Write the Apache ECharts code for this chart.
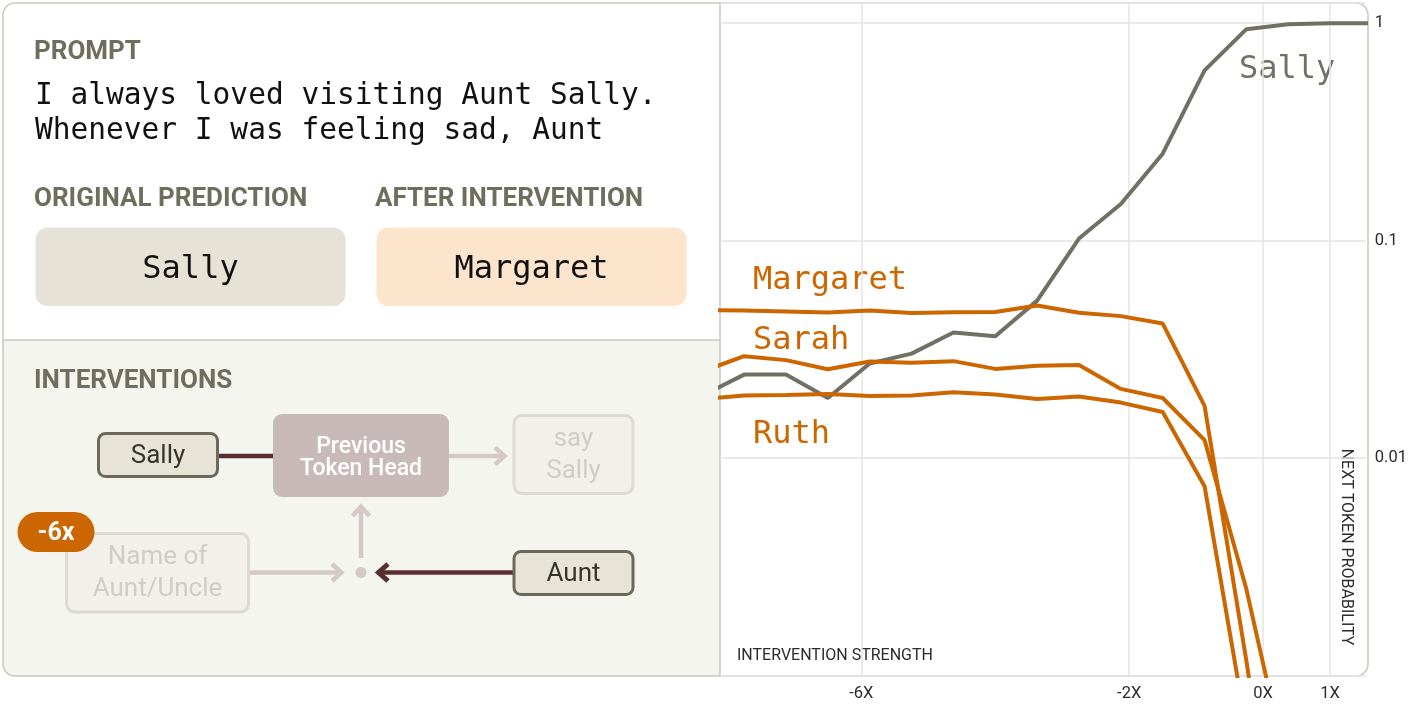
<!DOCTYPE html>
<html><head><meta charset="utf-8">
<script src="https://cdn.jsdelivr.net/npm/echarts@6/dist/echarts.min.js"></script>
<style>html,body{margin:0;padding:0;background:#fff}#c{width:1410px;height:704px}</style>
</head><body><div id="c"></div>
<script>
// ---- data ----
const xValues = [-8.375, -7.75, -7.125, -6.5, -5.875, -5.25, -4.625, -4.0, -3.375, -2.75, -2.125, -1.5, -0.875, -0.25, 0.375, 1.0, 1.625];
const sally    = [0.0194, 0.0242, 0.0242, 0.0189, 0.0272, 0.0302, 0.0378, 0.0363, 0.0529, 0.102, 0.147, 0.250, 0.603, 0.933, 0.983, 0.994, 0.994];
const margaret = [0.0478, 0.0476, 0.0471, 0.0466, 0.0476, 0.0464, 0.0468, 0.0469, 0.0502, 0.0465, 0.0449, 0.0415, 0.0174, 0.00117, 0.00006, 0.000001, 0.000001];
const sarah    = [0.0250, 0.0294, 0.0282, 0.0256, 0.0278, 0.0274, 0.0279, 0.0257, 0.0266, 0.0268, 0.0208, 0.0189, 0.0121, 0.0025, 0.00035, 0.00001, 0.000001];
const ruth     = [0.0187, 0.0194, 0.0195, 0.0197, 0.0193, 0.0194, 0.0201, 0.0196, 0.0187, 0.0192, 0.0180, 0.0163, 0.00744, 0.00057, 0.00001, 0.000001, 0.000001];
const xTickValues = [-6, -2, 0, 1];
const seriesNames = ['Sally', 'Margaret', 'Sarah', 'Ruth'];
const promptLines = ['I always loved visiting Aunt Sally.', 'Whenever I was feeling sad, Aunt'];
const originalPrediction = 'Sally';
const afterPrediction = 'Margaret';
const interventionFactor = '-6x';

// ---- styles ----
const GRAY = '#727064', ORANGE = '#cc6600', HEAD = '#6f6e5e';
const SANS = 'Roboto, "Noto Sans", sans-serif';
const MONO = '"DejaVu Sans Mono", "Liberation Mono", monospace';
const MAROON = '#5a2e2e', LIGHTARROW = '#d5c8c8', LIGHTBORDER = '#dcdad3', LIGHTTEXT = '#cfcdc7';
const DARKBORDER = '#6b6a5a', DARKFILL = '#e7e3d7', DARKTEXT = '#35352c';

const pairs = arr => xValues.map((x, i) => [x, arr[i]]);
const seriesData = [sally, margaret, sarah, ruth];
const seriesColors = [GRAY, ORANGE, ORANGE, ORANGE];

function txt(x, y, text, font, color, opts) {
  return Object.assign({
    type: 'text', x: x, y: y,
    style: Object.assign({ text: text, font: font, fill: color, align: 'left', verticalAlign: 'middle' }, (opts && opts.style) || {})
  }, (opts && opts.el) || {});
}
function rect(x, y, w, h, r, fill, stroke, lw) {
  return { type: 'rect', shape: { x: x, y: y, width: w, height: h, r: r },
    style: { fill: fill || null, stroke: stroke || null, lineWidth: lw || 0 } };
}
function line(x1, y1, x2, y2, color, lw) {
  return { type: 'line', shape: { x1: x1, y1: y1, x2: x2, y2: y2 }, style: { stroke: color, lineWidth: lw } };
}
function head(points, color, lw) {
  return { type: 'polyline', shape: { points: points }, style: { stroke: color, lineWidth: lw, fill: null, lineJoin: 'miter' } };
}
const C = { style: { align: 'center' } };

const elements = [
  // panels
  rect(3, 340, 717, 336, [0, 0, 0, 12], '#f5f5f0'),
  // headers
  txt(34, 52, 'PROMPT', 'bold 26px ' + SANS, HEAD),
  txt(35, 96, promptLines[0], '29.5px ' + MONO, '#111'),
  txt(35, 131, promptLines[1], '29.5px ' + MONO, '#111'),
  txt(34, 199.2, 'ORIGINAL PREDICTION', 'bold 26px ' + SANS, HEAD),
  txt(375, 199.2, 'AFTER INTERVENTION', 'bold 26px ' + SANS, HEAD),
  rect(35.5, 227.5, 310, 78.5, 12, '#e6e2d6'),
  rect(376.5, 227.5, 310, 78.5, 12, '#fde4cc'),
  txt(190.5, 269.7, originalPrediction, '32px ' + MONO, '#111', C),
  txt(531.5, 269.7, afterPrediction, '32px ' + MONO, '#111', C),
  txt(34, 381.2, 'INTERVENTIONS', 'bold 26px ' + SANS, HEAD),
  // diagram connectors
  line(218, 456, 274, 456, MAROON, 4.5),
  line(449, 456, 503, 456, LIGHTARROW, 4.5),
  head([[495, 447.5], [504.5, 456], [495, 464.5]], LIGHTARROW, 4.5),
  line(361, 558, 361, 509, LIGHTARROW, 4.5),
  head([[352.5, 516], [361, 506.5], [369.5, 516]], LIGHTARROW, 4.5),
  line(249, 572.5, 340, 572.5, LIGHTARROW, 4.5),
  head([[332, 564], [341.5, 572.5], [332, 581]], LIGHTARROW, 4.5),
  line(513, 572.5, 382, 572.5, MAROON, 4.5),
  head([[388, 564], [378.5, 572.5], [388, 581]], MAROON, 5),
  { type: 'circle', shape: { cx: 361, cy: 572.5, r: 5.5 }, style: { fill: LIGHTARROW } },
  // diagram boxes
  rect(98.5, 433.5, 119, 43, 7, DARKFILL, DARKBORDER, 3),
  txt(158, 456.5, 'Sally', '26px ' + SANS, DARKTEXT, C),
  rect(273, 414, 176, 83, 9, '#c9baba'),
  txt(361, 447, 'Previous', '500 23px ' + SANS, '#ffffff', C),
  txt(361, 469.5, 'Token Head', '500 23px ' + SANS, '#ffffff', C),
  rect(514, 415.5, 119, 78, 8, '#f1f0eb', LIGHTBORDER, 3),
  txt(573.5, 439.5, 'say', '26px ' + SANS, LIGHTTEXT, C),
  txt(573.5, 471, 'Sally', '26px ' + SANS, LIGHTTEXT, C),
  rect(66.5, 533.5, 182, 78.5, 8, '#f1f0eb', LIGHTBORDER, 3),
  txt(157.5, 557.8, 'Name of', '26px ' + SANS, LIGHTTEXT, C),
  txt(157.5, 589, 'Aunt/Uncle', '26px ' + SANS, LIGHTTEXT, C),
  rect(17.5, 512, 77, 40, 20, ORANGE),
  txt(56, 534, interventionFactor, 'bold 25px ' + SANS, '#ffffff', C),
  rect(514, 551.5, 119, 43, 7, DARKFILL, DARKBORDER, 3),
  txt(573.5, 574.5, 'Aunt', '26px ' + SANS, DARKTEXT, C),
  // chart texts
  txt(753, 281, seriesNames[1], '32px ' + MONO, ORANGE),
  txt(753, 340.2, seriesNames[2], '32px ' + MONO, ORANGE),
  txt(753, 434.4, seriesNames[3], '32px ' + MONO, ORANGE),
  txt(1239, 69.7, seriesNames[0], '32px ' + MONO, GRAY),
  txt(737, 655.5, 'INTERVENTION STRENGTH', '16px ' + SANS, '#2b2b2b'),
  { type: 'text', x: 1346, y: 547, rotation: -Math.PI / 2,
    style: { text: 'NEXT TOKEN PROBABILITY', font: '16px ' + SANS, fill: '#2b2b2b', align: 'center', verticalAlign: 'middle' } },
  // frame
  rect(3, 3, 1365, 673, 12, null, '#c9c8be', 1.5),
  line(720, 3, 720, 676, '#c9c8be', 1.5),
  line(3, 340, 720, 340, '#c9c8be', 1.5)
];

const chart = echarts.init(document.getElementById('c'), null, { renderer: 'canvas' });
chart.setOption({
  animation: false,
  backgroundColor: '#ffffff',
  grid: { left: 720, right: 42, top: 3, bottom: 28, containLabel: false },
  xAxis: {
    type: 'value', min: -8.11, max: 1.533,
    axisLine: { show: false },
    axisTick: { show: false, customValues: xTickValues },
    axisLabel: { customValues: xTickValues, formatter: v => v + 'X', color: '#2b2b2b', fontSize: 16.5, fontFamily: 'Roboto', margin: 9 },
    splitLine: { show: true, lineStyle: { color: '#e4e4e4', width: 1.5 } }
  },
  yAxis: {
    type: 'log', logBase: 10, min: 0.001, max: 1.23, position: 'right',
    axisLine: { show: false }, axisTick: { show: false },
    axisLabel: { showMinLabel: false, showMaxLabel: false, color: '#2b2b2b', fontSize: 16.5, fontFamily: 'Roboto', margin: 9,
      formatter: v => String(+(+v).toPrecision(3)) },
    splitLine: { show: true, lineStyle: { color: '#e4e4e4', width: 1.5 } }
  },
  series: seriesNames.map((n, i) => ({
    name: n, type: 'line', data: pairs(seriesData[i]), symbol: 'none', clip: true,
    lineStyle: { color: seriesColors[i], width: 4 }, z: 2 + i
  })),
  graphic: { elements: elements }
});
</script></body></html>
